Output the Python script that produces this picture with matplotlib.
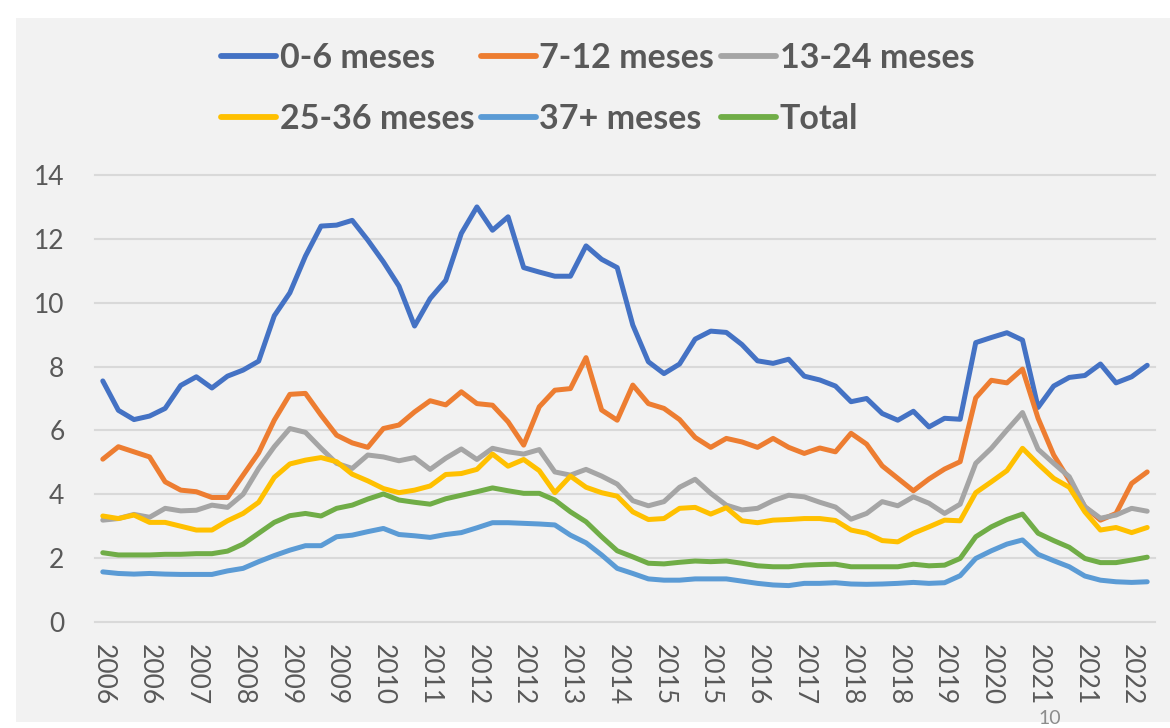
import pandas as pd
import matplotlib.pyplot as plt
from matplotlib.patches import Rectangle

plt.rcParams['font.family'] = ['Lato', 'DejaVu Sans']

# ── data (quarterly, 2006Q1 – 2022Q4) ──────────────────────────────────────
periods = pd.period_range("2006Q1", "2022Q4", freq="Q")

meses_0_6 = [7.55, 6.63, 6.34, 6.45, 6.69, 7.41, 7.68, 7.33, 7.70, 7.89, 8.17, 9.59,
             10.31, 11.46, 12.40, 12.43, 12.58, 11.96, 11.28, 10.52, 9.27, 10.13, 10.70, 12.17,
             13.00, 12.27, 12.69, 11.10, 10.96, 10.83, 10.83, 11.78, 11.36, 11.10, 9.30, 8.15,
             7.78, 8.08, 8.86, 9.11, 9.07, 8.69, 8.18, 8.10, 8.23, 7.70, 7.58, 7.39,
             6.90, 7.00, 6.53, 6.32, 6.60, 6.11, 6.38, 6.35, 8.75, 8.91, 9.06, 8.83,
             6.72, 7.39, 7.66, 7.72, 8.08, 7.49, 7.68, 8.04]
meses_7_12 = [5.10, 5.49, 5.33, 5.17, 4.39, 4.13, 4.08, 3.90, 3.90, 4.60, 5.30, 6.32,
              7.13, 7.16, 6.48, 5.85, 5.61, 5.47, 6.06, 6.17, 6.58, 6.93, 6.80, 7.21,
              6.84, 6.79, 6.27, 5.54, 6.74, 7.26, 7.31, 8.28, 6.64, 6.32, 7.42, 6.84,
              6.69, 6.34, 5.78, 5.47, 5.75, 5.64, 5.47, 5.75, 5.47, 5.28, 5.45, 5.33,
              5.91, 5.57, 4.89, 4.50, 4.11, 4.48, 4.79, 5.02, 7.02, 7.57, 7.49, 7.92,
              6.38, 5.23, 4.44, 3.61, 3.19, 3.40, 4.34, 4.70]
meses_13_24 = [3.19, 3.24, 3.37, 3.28, 3.56, 3.48, 3.50, 3.66, 3.59, 4.00, 4.81, 5.49,
               6.06, 5.94, 5.44, 4.97, 4.81, 5.23, 5.17, 5.05, 5.15, 4.78, 5.13, 5.42,
               5.09, 5.44, 5.33, 5.26, 5.40, 4.70, 4.60, 4.78, 4.57, 4.32, 3.80, 3.64,
               3.77, 4.22, 4.47, 4.03, 3.66, 3.51, 3.56, 3.80, 3.97, 3.92, 3.75, 3.60,
               3.22, 3.40, 3.77, 3.64, 3.92, 3.72, 3.40, 3.69, 4.97, 5.44, 6.01, 6.56,
               5.41, 4.97, 4.55, 3.61, 3.25, 3.35, 3.56, 3.47]
meses_25_36 = [3.32, 3.24, 3.35, 3.12, 3.12, 3.00, 2.88, 2.88, 3.17, 3.40, 3.75, 4.53,
               4.95, 5.07, 5.15, 5.02, 4.63, 4.42, 4.18, 4.05, 4.13, 4.26, 4.62, 4.65,
               4.78, 5.26, 4.88, 5.09, 4.74, 4.05, 4.57, 4.22, 4.05, 3.94, 3.45, 3.21,
               3.24, 3.56, 3.59, 3.38, 3.58, 3.17, 3.11, 3.19, 3.21, 3.24, 3.24, 3.18,
               2.88, 2.78, 2.55, 2.51, 2.78, 2.98, 3.19, 3.17, 4.05, 4.39, 4.74, 5.44,
               4.95, 4.50, 4.22, 3.45, 2.88, 2.96, 2.80, 2.96]
meses_37 = [1.57, 1.52, 1.50, 1.52, 1.50, 1.49, 1.49, 1.49, 1.60, 1.68, 1.89, 2.08,
            2.25, 2.39, 2.39, 2.67, 2.72, 2.83, 2.93, 2.74, 2.70, 2.65, 2.74, 2.80,
            2.95, 3.11, 3.11, 3.09, 3.07, 3.04, 2.72, 2.48, 2.10, 1.68, 1.52, 1.35,
            1.31, 1.31, 1.35, 1.35, 1.35, 1.28, 1.21, 1.16, 1.14, 1.21, 1.21, 1.23,
            1.19, 1.18, 1.19, 1.21, 1.24, 1.21, 1.23, 1.45, 1.99, 2.23, 2.44, 2.57,
            2.12, 1.92, 1.73, 1.44, 1.31, 1.26, 1.24, 1.26]
total = [2.17, 2.10, 2.10, 2.10, 2.12, 2.12, 2.14, 2.14, 2.22, 2.44, 2.78, 3.12,
         3.33, 3.40, 3.32, 3.56, 3.66, 3.85, 4.01, 3.82, 3.75, 3.69, 3.86, 3.97,
         4.08, 4.20, 4.11, 4.03, 4.03, 3.82, 3.45, 3.14, 2.67, 2.23, 2.04, 1.84,
         1.82, 1.87, 1.91, 1.89, 1.91, 1.84, 1.76, 1.73, 1.73, 1.78, 1.80, 1.81,
         1.73, 1.73, 1.73, 1.73, 1.81, 1.76, 1.78, 1.99, 2.67, 2.98, 3.21, 3.38,
         2.78, 2.55, 2.34, 1.99, 1.86, 1.86, 1.94, 2.03]

series = [
    ("0-6 meses", meses_0_6, "#4472C4"),
    ("7-12 meses", meses_7_12, "#ED7D31"),
    ("13-24 meses", meses_13_24, "#A5A5A5"),
    ("25-36 meses", meses_25_36, "#FFC000"),
    ("37+ meses", meses_37, "#5B9BD5"),
    ("Total", total, "#70AD47"),
]

# ── plot ───────────────────────────────────────────────────────────────────
W, H = 1170, 728
fig = plt.figure(figsize=(W / 100, H / 100), dpi=100, facecolor="white")
fig.patches.append(Rectangle((16 / W, 1 - 722 / H), 1 - 16 / W, (722 - 18) / H,
                             transform=fig.transFigure, facecolor="#F2F2F2",
                             edgecolor="none", zorder=-10))

ax = fig.add_axes([95 / W, 1 - 622 / H, (1155 - 95) / W, (622 - 175) / H])
ax.set_facecolor("none")

x = range(len(periods))
lines = {}
for label, values, color in series:
    lines[label], = ax.plot(x, values, color=color, linewidth=3.6,
                            solid_joinstyle="round", solid_capstyle="round", label=label)

ax.set_xlim(-0.5, len(periods) - 0.5)
ax.set_ylim(0, 14)
ax.set_yticks(range(0, 15, 2))
ax.set_xticks(list(x)[::3])
ax.set_xticklabels([str(p.year) for p in periods[::3]], rotation=-90)
ax.tick_params(axis="both", length=0, labelsize=19, colors="#595959")
ax.tick_params(axis="y", pad=22)
ax.tick_params(axis="x", pad=16)
for s in ax.spines.values():
    s.set_visible(False)
ax.grid(axis="y", color="#D9D9D9", linewidth=1.5)
ax.set_axisbelow(True)
for gl in ax.get_ygridlines():
    gl.set_clip_on(False)

# legend: two rows, three columns (column-major order)
order = ["0-6 meses", "25-36 meses", "7-12 meses", "37+ meses", "13-24 meses", "Total"]
leg = fig.legend([lines[k] for k in order], order, ncol=3, frameon=False,
                 loc="upper left", bbox_to_anchor=(221 / W, 1 - 42 / H),
                 borderaxespad=0, borderpad=0, handlelength=1.62, handletextpad=0.1,
                 columnspacing=0.2, labelspacing=0.85,
                 prop={"size": 24.5, "weight": "bold"})
for t in leg.get_texts():
    t.set_color("#595959")
for h in leg.legend_handles:
    h.set_linewidth(4.2)

fig.text(1038 / W, 1 - 710 / H, "10", fontsize=14, color="#8C8C8C", va="top", ha="left")

plt.savefig("out.png", dpi=100)
